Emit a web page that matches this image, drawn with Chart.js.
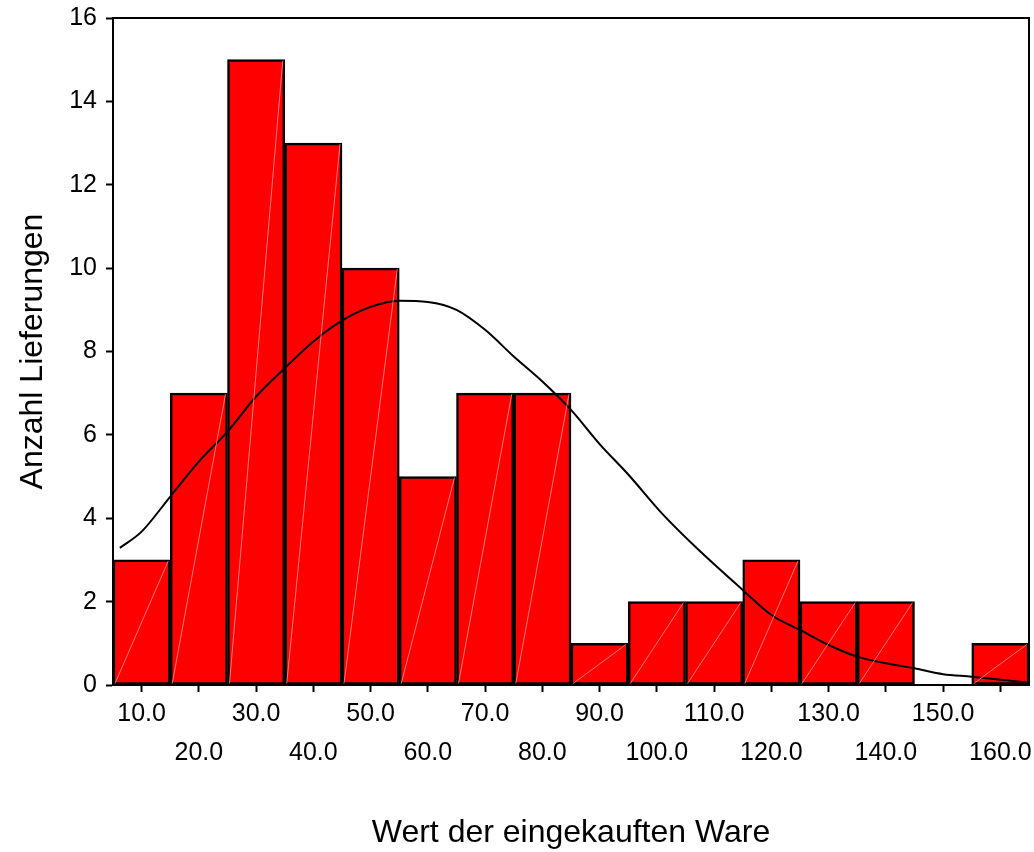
<!DOCTYPE html>
<html>
<head>
<meta charset="utf-8">
<script src="https://cdn.jsdelivr.net/npm/chart.js@4"></script>
<style>
  body { margin: 0; background: #fff; }
</style>
</head>
<body>
<canvas id="histChart" width="1034" height="852"></canvas>
<script>
// DATA
const binCenters = [10, 20, 30, 40, 50, 60, 70, 80, 90, 100, 110, 120, 130, 140, 150, 160];
const counts     = [3, 7, 15, 13, 10, 5, 7, 7, 1, 2, 2, 3, 2, 2, 0, 1];
const xTicks     = [10, 20, 30, 40, 50, 60, 70, 80, 90, 100, 110, 120, 130, 140, 150, 160];
const yTicks     = [0, 2, 4, 6, 8, 10, 12, 14, 16];

// normal curve
const curveX = [6.2, 10, 15, 20, 25, 30, 35, 40, 45, 50, 55, 60, 65, 70, 75, 80, 85, 90, 95, 101, 107, 115, 120, 125, 130, 135, 140, 145, 150, 155, 164.6];
const curveY = [3.29, 3.68, 4.52, 5.36, 6.08, 6.92, 7.6, 8.24, 8.74, 9.07, 9.22, 9.19, 9.0, 8.52, 7.88, 7.28, 6.6, 5.78, 5.05, 4.1, 3.28, 2.28, 1.68, 1.32, 0.96, 0.68, 0.52, 0.4, 0.26, 0.2, 0.06];

const FONT = "'Liberation Sans', Arial, sans-serif";

// FRAME + diagonal streaks in bars
const framePlugin = {
    id: "frame",
    afterDatasetsDraw(chart) {
        const ctx = chart.ctx;
        const meta = chart.getDatasetMeta(1);
        ctx.save();
        ctx.strokeStyle = "rgba(255,170,170,0.7)";
        ctx.lineWidth = 1;
        meta.data.forEach(bar => {
            if (bar.base - bar.y < 1) return;
            const w = bar.width;
            ctx.beginPath();
            ctx.moveTo(bar.x - w / 2 + 2, bar.base - 1);
            ctx.lineTo(bar.x + w / 2 - 2, bar.y + 1);
            ctx.stroke();
        });
        ctx.restore();
    },
    afterDraw(chart) {
        const a = chart.chartArea;
        const ctx = chart.ctx;
        ctx.save();
        ctx.strokeStyle = "#000";
        ctx.lineWidth = 2;
        ctx.strokeRect(a.left, a.top, a.right - a.left, a.bottom - a.top);
        ctx.restore();
    }
};

const ctx = document.getElementById("histChart").getContext("2d");

const chart = new Chart(ctx, {
    data: {
        datasets: [{
            type: "line",
            order: 0,
            data: curveX.map((x, i) => ({ x: x, y: curveY[i] })),
            borderColor: "#000",
            borderWidth: 2,
            pointRadius: 0,
            cubicInterpolationMode: "monotone",
            fill: false
        }, {
            type: "bar",
            order: 1,
            data: binCenters.map((x, i) => ({ x: x, y: counts[i] })),
            backgroundColor: "#ff0000",
            borderColor: "#000",
            borderWidth: 2.5,
            borderSkipped: false,
            barPercentage: 1,
            categoryPercentage: 1
        }]
    },
    options: {
        responsive: false,
        animation: false,
        layout: { padding: { top: 18, right: 5, left: 0, bottom: 0 } },
        plugins: { legend: { display: false }, tooltip: { enabled: false } },
        scales: {
            x: {
                type: "linear",
                min: 5,
                max: 165,
                offset: false,
                afterBuildTicks: scale => { scale.ticks = xTicks.map(v => ({ value: v })); },
                afterFit: scale => { scale.height = 167; scale.paddingLeft = 0; scale.paddingRight = 0; },
                grid: { offset: false, drawOnChartArea: false, color: "#000", tickLength: 7, tickWidth: 2 },
                border: { color: "#000", width: 2 },
                ticks: {
                    color: "#000",
                    maxRotation: 0,
                    autoSkip: false,
                    padding: 3,
                    font: { family: FONT, size: 25, lineHeight: 1.56 },
                    callback: (v, i) => i % 2 === 0 ? v.toFixed(1) : ["", v.toFixed(1)]
                },
                title: {
                    display: true,
                    text: "Wert der eingekauften Ware",
                    color: "#000",
                    font: { family: FONT, size: 32 },
                    padding: { top: 0, bottom: 0 }
                }
            },
            y: {
                min: 0,
                max: 16,
                afterBuildTicks: scale => { scale.ticks = yTicks.map(v => ({ value: v })); },
                afterFit: scale => { scale.width = 113; scale.paddingTop = 0; scale.paddingBottom = 0; },
                grid: { drawOnChartArea: false, color: "#000", tickLength: 7, tickWidth: 2 },
                border: { color: "#000", width: 2 },
                ticks: {
                    color: "#000",
                    padding: 9,
                    font: { family: FONT, size: 25 }
                },
                title: {
                    display: true,
                    text: "Anzahl Lieferungen",
                    color: "#000",
                    font: { family: FONT, size: 32 },
                    padding: { top: 14, bottom: 0 }
                }
            }
        }
    },
    plugins: [framePlugin]
});
</script>
</body>
</html>
